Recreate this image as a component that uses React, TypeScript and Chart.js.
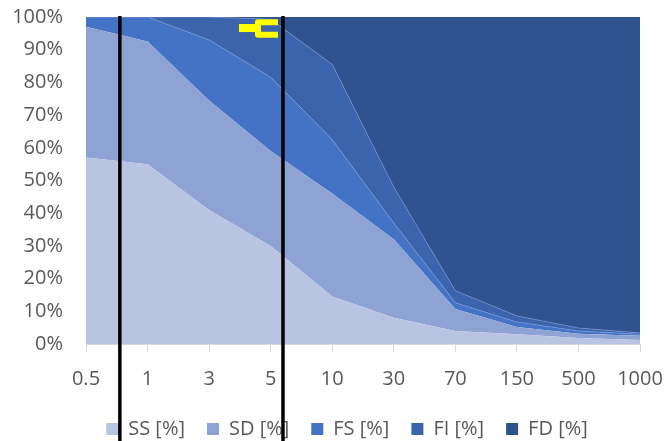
import React, { useEffect, useRef } from "react";
import { Chart, registerables } from "chart.js";

Chart.register(...registerables);

const categories = ["0.5", "1", "3", "5", "10", "30", "70", "150", "500", "1000"];
const ssValues = [57, 55, 41, 30, 14.5, 8, 4, 3, 1.8, 1.2];
const sdValues = [40, 37.5, 33.5, 29, 31.5, 24, 6.7, 2.2, 1.3, 1.3];
const fsValues = [3, 7.5, 18.5, 22.6, 16.5, 5, 1.9, 1.5, 0.9, 0.5];
const fiValues = [0, 0, 7, 17.7, 23, 11, 3.7, 1.9, 0.9, 0.4];
const fdValues = [0, 0, 0, 0.7, 14.5, 52, 83.7, 91.4, 95.1, 96.6];
const seriesNames = ["SS [%]", "SD [%]", "FS [%]", "FI [%]", "FD [%]"];
const seriesColors = ["#B9C3E2", "#8FA2D4", "#4472C4", "#3B64AD", "#30538F"];
// vertical marker lines, in category-index units
const markerPositions = [0.55, 3.2];

const FONT = "'Open Sans', 'Liberation Sans', sans-serif";
const LEGEND_CENTER = 347;

const legendShiftPlugin = {
  id: "legendShift",
  afterLayout(chart: any) {
    const lg = chart.legend;
    if (lg) {
      const dx = LEGEND_CENTER - (lg.left + lg.right) / 2;
      lg.left += dx;
      lg.right += dx;
    }
  },
};

const annotationPlugin = {
  id: "annotations",
  afterDraw(chart: any) {
    const { ctx, scales } = chart;
    const xs = scales.x;
    const ys = scales.y;
    ctx.save();
    // black vertical marker lines
    ctx.strokeStyle = "#000000";
    ctx.lineWidth = 3.5;
    markerPositions.forEach((p) => {
      const x = xs.getPixelForValue(p);
      ctx.beginPath();
      ctx.moveTo(x, ys.getPixelForValue(100) - 1);
      ctx.lineTo(x, chart.height);
      ctx.stroke();
    });
    // yellow hand-drawn mark
    ctx.fillStyle = "#FFFF00";
    ctx.strokeStyle = "#FFFF00";
    const bx0 = xs.getPixelForValue(2.485);
    const bx1 = xs.getPixelForValue(2.778);
    const by0 = ys.getPixelForValue(97.85);
    const by1 = ys.getPixelForValue(95.4);
    ctx.fillRect(bx0, by0, bx1 - bx0, by1 - by0);
    ctx.lineWidth = 6;
    ctx.lineJoin = "round";
    ctx.lineCap = "butt";
    const cx0 = xs.getPixelForValue(2.794);
    const cx1 = xs.getPixelForValue(3.119);
    const cy0 = ys.getPixelForValue(98.4);
    const cy1 = ys.getPixelForValue(94.6);
    ctx.beginPath();
    ctx.moveTo(cx1, cy0);
    ctx.lineTo(cx0, cy0);
    ctx.lineTo(cx0, cy1);
    ctx.lineTo(cx1, cy1);
    ctx.stroke();
    ctx.restore();
  },
};

export default function App() {
  const canvasRef = useRef<HTMLCanvasElement | null>(null);

  useEffect(() => {
    if (!canvasRef.current) return;
    const values = [ssValues, sdValues, fsValues, fiValues, fdValues];
    const borders = [
      "rgba(0,0,0,0)",
      "rgba(0,0,0,0)",
      "rgba(120,150,215,0.7)",
      "rgba(110,140,205,0.7)",
      "rgba(0,0,0,0)",
    ];
    const chart = new Chart(canvasRef.current, {
      type: "line",
      data: {
        labels: categories,
        datasets: values.map((v, i) => ({
          label: seriesNames[i],
          data: v,
          backgroundColor: seriesColors[i],
          borderColor: borders[i],
          borderWidth: i === 2 || i === 3 ? 1 : 0,
          pointRadius: 0,
          fill: i === 0 ? "origin" : "-1",
          tension: 0,
        })),
      },
      options: {
        responsive: false,
        animation: false,
        layout: { padding: { left: 0, right: 0, top: 17, bottom: -8 } },
        plugins: {
          tooltip: { enabled: false },
          legend: {
            position: "bottom",
            labels: {
              boxWidth: 12,
              boxHeight: 12,
              padding: 22,
              color: "#595959",
              font: { family: FONT, size: 20 },
              generateLabels: (chart: any) =>
                chart.data.datasets.map((d: any, i: number) => ({
                  text: d.label,
                  fillStyle: d.backgroundColor,
                  strokeStyle: d.backgroundColor,
                  lineWidth: 0,
                  hidden: false,
                  datasetIndex: i,
                  fontColor: "#595959",
                })),
            },
          },
        },
        scales: {
          x: {
            offset: false,
            grid: {
              display: true,
              drawOnChartArea: false,
              drawTicks: true,
              tickLength: 8,
              color: "#D9D9D9",
            },
            border: { display: true, color: "#D9D9D9", width: 1 },
            ticks: {
              color: "#595959",
              font: { family: FONT, size: 20 },
              padding: 15,
              maxRotation: 0,
              autoSkip: false,
            },
            afterFit: (scale: any) => {
              scale.height = 53;
              scale.paddingRight = 26;
              scale.paddingLeft = 0;
            },
          },
          y: {
            stacked: true,
            min: 0,
            max: 100,
            grid: {
              color: "#D9D9D9",
              drawTicks: true,
              tickLength: 23,
              tickColor: "rgba(0,0,0,0)",
            },
            border: { display: false },
            ticks: {
              stepSize: 10,
              padding: 0,
              color: "#595959",
              font: { family: FONT, size: 20 },
              callback: (v: any) => v + "%",
            },
            afterFit: (scale: any) => {
              scale.width = 86;
            },
          },
        },
      },
      plugins: [legendShiftPlugin, annotationPlugin],
    });
    return () => chart.destroy();
  }, []);

  return (
    <div style={{ position: "absolute", left: 0, top: 0, width: 666, height: 441, background: "#fff" }}>
      <canvas ref={canvasRef} width={666} height={441} style={{ display: "block" }} />
    </div>
  );
}
